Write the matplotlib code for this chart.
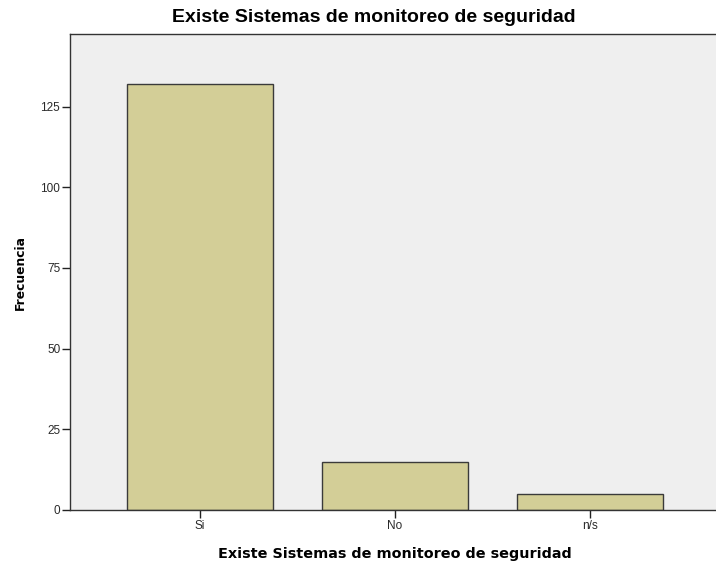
import matplotlib
matplotlib.use('Agg')
import matplotlib.pyplot as plt

categorias = ['Si', 'No', 'n/s']
frecuencias = [132, 15, 5]
y_ticks = [0, 25, 50, 75, 100, 125]

titulo = 'Existe Sistemas de monitoreo de seguridad'

fig = plt.figure(figsize=(7.16, 5.68), dpi=100)
ax = fig.add_axes([70 / 716, 58 / 568, 650 / 716, 476 / 568])
ax.set_facecolor('#efefef')

x = range(len(categorias))
ax.bar(x, frecuencias, width=0.752, color='#d3ce97', edgecolor='#3a3a3a',
       linewidth=1.0, zorder=2)

ax.set_xlim(-0.667, 2.667)
ax.set_ylim(0, 147.5)
ax.set_xticks(list(x))
ax.set_xticklabels(categorias, fontfamily='Liberation Sans', fontsize=8.5,
                   color='#2a2a2a')
ax.set_yticks(y_ticks)
ax.set_yticklabels([str(v) for v in y_ticks], fontfamily='Liberation Sans',
                   fontsize=8.5, color='#2a2a2a')
ax.tick_params(axis='both', direction='out', length=6, width=1.0,
               color='#222222', pad=1)

for lado in ['left', 'bottom', 'top']:
    ax.spines[lado].set_color('#333333')
    ax.spines[lado].set_linewidth(1.0)
ax.spines['right'].set_visible(False)

ax.set_xlabel(titulo, fontfamily='DejaVu Sans', fontweight='bold',
              fontsize=10.4, labelpad=11)
ax.set_ylabel('Frecuencia', fontfamily='DejaVu Sans', fontweight='bold',
              fontsize=8.8, labelpad=10)
fig.text(374 / 716, 1 - 18 / 568, titulo, ha='center', va='center',
         fontfamily='Liberation Sans', fontweight='bold', fontsize=14)

fig.savefig('out.png', dpi=100)
